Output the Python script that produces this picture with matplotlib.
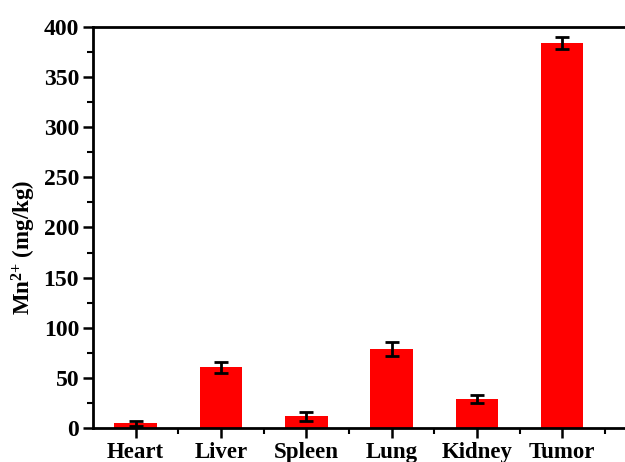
import matplotlib
matplotlib.use("Agg")
import matplotlib.pyplot as plt
from matplotlib.ticker import MultipleLocator, FixedLocator

organs = ["Heart", "Liver", "Spleen", "Lung", "Kidney", "Tumor"]
mn_content = [4.5, 60.5, 11.5, 78.5, 28.5, 384.0]
mn_err = [2.5, 5.5, 4.5, 7.0, 4.0, 6.0]

plt.rcParams["font.family"] = ["Liberation Serif", "DejaVu Serif"]
plt.rcParams["font.weight"] = "bold"
plt.rcParams["mathtext.fontset"] = "custom"
plt.rcParams["mathtext.rm"] = "Liberation Serif:bold"
plt.rcParams["mathtext.bf"] = "Liberation Serif:bold"
plt.rcParams["mathtext.default"] = "rm"

fig = plt.figure(figsize=(6.25, 4.62), dpi=100)
ax = fig.add_axes([0.1488, 0.0736, 0.853, 0.868])

x = list(range(1, len(organs) + 1))
ax.bar(x, mn_content, width=0.5, color="#ff0000", edgecolor="none", zorder=2)
ax.errorbar(x, mn_content, yerr=mn_err, fmt="none", ecolor="black",
            elinewidth=2, capsize=5, capthick=2, zorder=3)

ax.set_xlim(0.5, 6.75)
ax.set_ylim(0, 400)

ax.set_xticks(x)
ax.set_xticklabels(organs, fontsize=16.5, fontweight="bold")
ax.xaxis.set_minor_locator(FixedLocator([i + 0.5 for i in x]))
ax.yaxis.set_major_locator(MultipleLocator(50))
ax.yaxis.set_minor_locator(MultipleLocator(25))
for lbl in ax.get_yticklabels():
    lbl.set_fontsize(17)
    lbl.set_fontweight("bold")

ax.tick_params(axis="x", which="major", direction="out", length=7, width=1.8, pad=3)
ax.tick_params(axis="y", which="major", direction="out", length=7, width=1.8, pad=3)
ax.tick_params(axis="both", which="minor", direction="out", length=4, width=1.5)

for side in ("left", "bottom", "top"):
    ax.spines[side].set_linewidth(2)
ax.spines["right"].set_visible(False)

ax.set_ylabel(r"Mn$^{2{+}}$ (mg/kg)", fontsize=16.5, fontweight="bold")
ax.yaxis.set_label_coords(-0.104, 0.45)

fig.savefig("out.png", dpi=100)
